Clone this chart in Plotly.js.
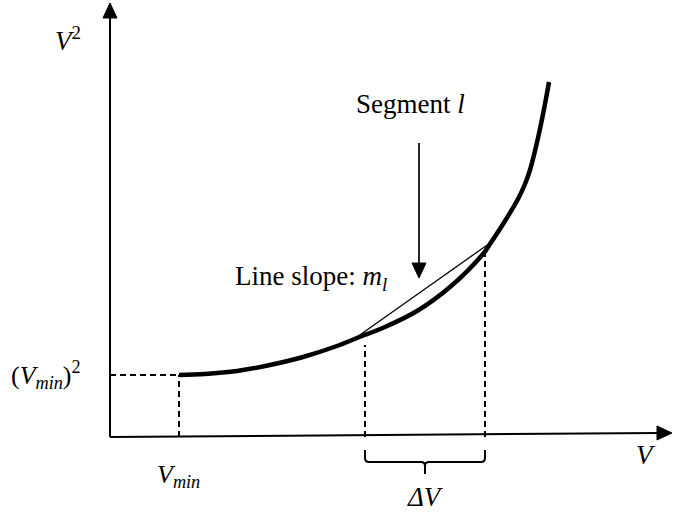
<!DOCTYPE html>
<html>
<head>
<meta charset="utf-8">
<script src="https://cdn.plot.ly/plotly-3.0.1.min.js"></script>
<style>html,body{margin:0;padding:0;background:#fff;}#chart{width:673px;height:515px;}</style>
</head>
<body>
<div id="chart"></div>
<script>
// Schematic curve V^2 vs V (arbitrary units, origin at axes intersection)
const curveV  = [6.9, 9.5, 12.7, 16.0, 19.3, 22.7, 24.7, 27.5, 30.7, 34.0, 37.3, 38.0, 39.5, 40.8, 41.5, 42.0, 42.8, 43.5, 43.9];
const curveV2 = [6.2, 6.3, 6.6, 7.2, 8.0, 9.1, 9.9, 11.0, 12.6, 15.0, 18.3, 19.3, 21.6, 23.8, 25.3, 26.7, 29.9, 33.3, 35.5];
const vMin = 6.9;
const vMin2 = 6.2;
const segV  = [24.7, 38.0];   // chord of segment l
const segV2 = [10.0, 19.4];
const deltaV = [25.5, 37.5];  // ΔV bounds
const deltaVtop = [9.2, 18.5];
const axisEndV = 56.2, axisEndV2 = 43.4, axisTiltV2 = 0.4;
const pointerV = 30.9, pointerFrom = 29.4, pointerTo = 15.9;

const FONT = 'Liberation Serif, Times New Roman, serif';
const BLACK = '#000';
const dashStyle = {color: BLACK, width: 2, dash: '6px,4px'};

const traces = [
  {x: curveV, y: curveV2, mode: 'lines', line: {color: BLACK, width: 4.5, shape: 'spline', smoothing: 1}, hoverinfo: 'skip'},
  {x: segV, y: segV2, mode: 'lines', line: {color: BLACK, width: 1.3}, hoverinfo: 'skip'}
];

const mid = (deltaV[0] + deltaV[1]) / 2;
const bTop = -1.3, bMid = -2.5, bTip = -3.7, r = 0.4;
const bracePath =
  `M ${deltaV[0]},${bTop} L ${deltaV[0]},${bMid + r} Q ${deltaV[0]},${bMid} ${deltaV[0] + r},${bMid} ` +
  `L ${mid - r},${bMid} Q ${mid},${bMid} ${mid},${bMid - r} L ${mid},${bTip} ` +
  `M ${mid},${bMid - r} Q ${mid},${bMid} ${mid + r},${bMid} L ${deltaV[1] - r},${bMid} ` +
  `Q ${deltaV[1]},${bMid} ${deltaV[1]},${bMid + r} L ${deltaV[1]},${bTop}`;

// arrowheads (filled triangles) built from the arrow end points
const HL = 1.5, HW = 0.7;
function headUp(x, y)    { return `M ${x},${y} L ${x - HW},${y - HL} L ${x + HW},${y - HL} Z`; }
function headDown(x, y)  { return `M ${x},${y} L ${x - HW},${y + HL} L ${x + HW},${y + HL} Z`; }
function headRight(x, y) { return `M ${x},${y} L ${x - HL},${y + HW} L ${x - HL},${y - HW} Z`; }
const headStyle = {type: 'path', fillcolor: BLACK, line: {color: BLACK, width: 1}};

const shapes = [
  {type: 'line', x0: 0, y0: 0, x1: 0, y1: axisEndV2 - HL + 0.2, line: {color: BLACK, width: 2}},
  {type: 'line', x0: 0, y0: 0, x1: axisEndV - HL + 0.2, y1: axisTiltV2, line: {color: BLACK, width: 2}},
  {type: 'line', x0: pointerV, y0: pointerFrom, x1: pointerV, y1: pointerTo + HL - 0.2, line: {color: BLACK, width: 1.7}},
  Object.assign({path: headUp(0, axisEndV2)}, headStyle),
  Object.assign({path: headRight(axisEndV, axisTiltV2)}, headStyle),
  Object.assign({path: headDown(pointerV, pointerTo)}, headStyle),
  {type: 'line', x0: 0, y0: vMin2, x1: vMin, y1: vMin2, line: dashStyle},
  {type: 'line', x0: vMin, y0: 0, x1: vMin, y1: vMin2, line: dashStyle},
  {type: 'line', x0: deltaV[0], y0: 0, x1: deltaV[0], y1: deltaVtop[0], line: dashStyle},
  {type: 'line', x0: deltaV[1], y0: 0, x1: deltaV[1], y1: deltaVtop[1], line: dashStyle},
  {type: 'path', path: bracePath, line: {color: BLACK, width: 2}}
];

function label(x, y, text, size) {
  return {x: x, y: y, xref: 'x', yref: 'y', text: text, showarrow: false,
          xanchor: 'center', yanchor: 'middle', font: {family: FONT, size: size || 27, color: BLACK}};
}

const annotations = [
  label(-4.2, 39.8, '<i>V</i><sup>2</sup>'),
  label(-6.4, 6.2, '(<i>V<sub>min</sub></i>)<sup>2</sup>', 26),
  label(6.8, -3.9, '<i>V<sub>min</sub></i>', 26),
  label(53.6, -1.8, '<i>V</i>'),
  label(31.5, -6.0, '<i>ΔV</i>'),
  label(30.0, 33.3, 'Segment <i>l</i>'),
  label(20.1, 15.9, 'Line slope: <i>m<sub>l</sub></i>')
];

const layout = {
  width: 673, height: 515,
  margin: {l: 0, r: 0, t: 0, b: 0},
  paper_bgcolor: '#fff', plot_bgcolor: '#fff',
  showlegend: false,
  xaxis: {range: [-11.0, 56.3], visible: false, fixedrange: true},
  yaxis: {range: [-7.8, 43.7], visible: false, fixedrange: true},
  shapes: shapes,
  annotations: annotations
};

Plotly.newPlot('chart', traces, layout, {staticPlot: true, displayModeBar: false});
</script>
</body>
</html>
